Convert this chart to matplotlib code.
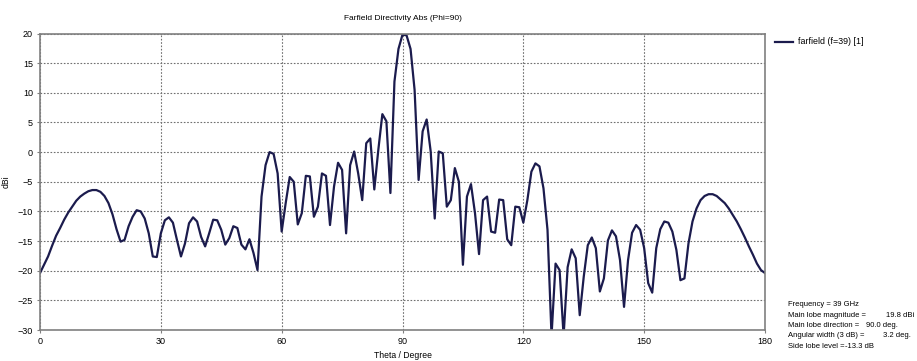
import matplotlib
matplotlib.use("Agg")
import matplotlib.pyplot as plt
import numpy as np

theta = np.arange(0, 181)
directivity = [
    -20.4, -19.0, -17.6, -15.8, -14.1, -12.8, -11.4, -10.2, -9.2, -8.2,
    -7.5, -7.0, -6.6, -6.4, -6.4, -6.7, -7.4, -8.6, -10.5, -13.0,
    -15.1, -14.8, -12.5, -10.9, -9.8, -10.0, -11.2, -13.7, -17.6, -17.7,
    -13.7, -11.5, -11.0, -11.9, -14.8, -17.6, -15.4, -12.0, -11.0, -11.7,
    -14.3, -15.9, -13.7, -11.4, -11.5, -13.1, -15.6, -14.5, -12.5, -12.8,
    -15.6, -16.4, -14.7, -17.0, -19.9, -7.5, -2.2, 0.0, -0.3, -3.6,
    -13.4, -8.6, -4.2, -5.0, -12.2, -10.3, -4.0, -4.1, -10.9, -9.2,
    -3.6, -4.0, -12.3, -5.8, -1.8, -3.0, -13.7, -2.2, 0.1, -3.6,
    -8.1, 1.5, 2.3, -6.3, 0.4, 6.4, 5.2, -6.9, 11.9, 17.4,
    19.8, 19.7, 17.4, 10.5, -4.7, 3.5, 5.5, 0.1, -11.2, 0.1,
    -0.2, -9.2, -8.1, -2.7, -5.0, -19.0, -7.5, -5.4, -10.3, -17.2,
    -8.1, -7.5, -13.4, -13.6, -8.0, -8.1, -14.7, -15.7, -9.2, -9.3,
    -11.9, -8.1, -3.3, -1.9, -2.4, -6.1, -13.1, -31.0, -18.8, -19.9,
    -31.0, -19.4, -16.4, -17.9, -27.5, -21.0, -15.7, -14.4, -16.2, -23.5,
    -21.3, -14.9, -13.2, -14.2, -18.2, -26.1, -18.2, -13.6, -12.3, -13.1,
    -16.2, -22.1, -23.7, -16.2, -13.0, -11.7, -11.9, -13.4, -16.5, -21.6,
    -21.3, -15.4, -11.7, -9.5, -8.1, -7.4, -7.1, -7.1, -7.4, -8.0,
    -8.6, -9.5, -10.6, -11.7, -13.0, -14.4, -15.9, -17.3, -18.8, -19.9,
    -20.4,
]

x_ticks = [0, 30, 60, 90, 120, 150, 180]
y_ticks = [-30, -25, -20, -15, -10, -5, 0, 5, 10, 15, 20]

info_labels = ["Frequency = 39 GHz", "Main lobe magnitude =", "Main lobe direction =",
               "Angular width (3 dB) =", "Side lobe level ="]
info_values = ["", "19.8 dBi", "90.0 deg.", "3.2 deg.", "-13.3 dB"]
value_x = [0, 886, 866, 883, 845]

plt.rcParams['font.family'] = ['Liberation Sans', 'DejaVu Sans']
fig = plt.figure(figsize=(9.17, 3.61), dpi=100)
ax = fig.add_axes([40 / 917, 1 - 330 / 361, 725 / 917, 296.5 / 361])

line_color = '#1b1b4d'
ax.plot(theta, directivity, color=line_color, lw=1.6)

ax.set_xlim(0, 180)
ax.set_ylim(-30, 20)
ax.set_xticks(x_ticks)
ax.set_yticks(y_ticks)
ax.tick_params(labelsize=6.5, length=2, color='#808080', pad=3)
ax.grid(True, linestyle=(0, (1.5, 1.5)), color='#707070', lw=0.8)
for s in ax.spines.values():
    s.set_color('#808080')
    s.set_linewidth(1.2)

ax.set_xlabel('Theta / Degree', fontsize=6.2, labelpad=4)
ax.set_ylabel('dBi', fontsize=6.2, labelpad=5)
ax.set_title('Farfield Directivity Abs (Phi=90)', fontsize=6, pad=10)

# legend
fig.add_artist(plt.Line2D([775 / 917, 793 / 917], [1 - 42 / 361, 1 - 42 / 361],
                          color=line_color, lw=1.6))
fig.text(798 / 917, 1 - 42 / 361, 'farfield (f=39) [1]', fontsize=6.4, va='center')

for i, (lab, val) in enumerate(zip(info_labels, info_values)):
    y = 1 - (305 + 10.3 * i) / 361
    fig.text(788 / 917, y, lab, fontsize=5.5, va='center')
    if val:
        fig.text(value_x[i] / 917, y, val, fontsize=5.5, va='center')

fig.savefig('out.png', dpi=100)
